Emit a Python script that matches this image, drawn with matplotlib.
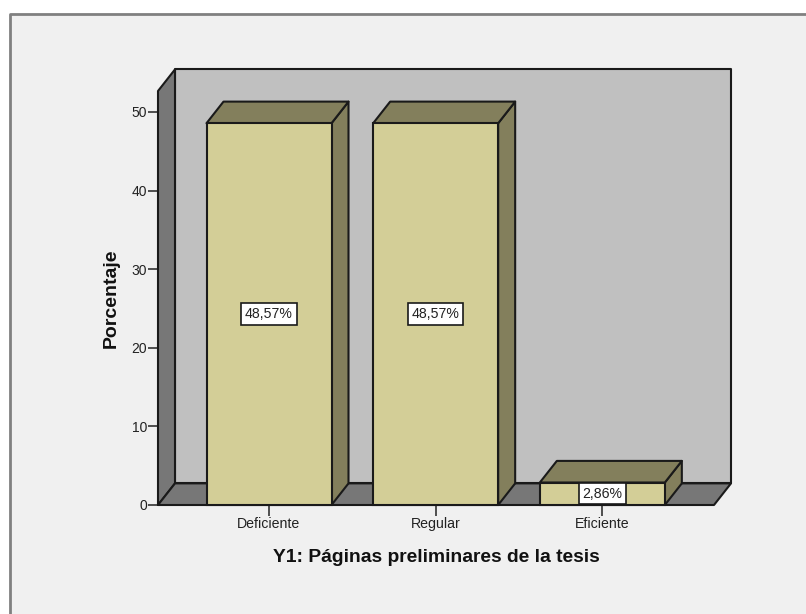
import matplotlib
matplotlib.use("Agg")
import matplotlib.pyplot as plt
from matplotlib.patches import Polygon, Rectangle

plt.rcParams['font.family'] = ['Liberation Sans', 'DejaVu Sans']

categories = ['Deficiente', 'Regular', 'Eficiente']
values = [48.57, 48.57, 2.86]
value_labels = ['48,57%', '48,57%', '2,86%']
y_ticks = [0, 10, 20, 30, 40, 50]

W, H = 806, 614
WALL = '#777777'
BACK = '#c0c0c0'
FRONT = '#d3ce97'
SHADE = '#837f5c'
EDGE = '#1a1a1a'

bar_w = 0.75
dx = 0.102
dy = 2.75
x0, x1 = -0.666, 2.67
ytop = 52.67
lw = 1.5


def poly(ax, pts, color, z):
    ax.add_patch(Polygon(pts, closed=True, facecolor=color, edgecolor=EDGE,
                         linewidth=lw, zorder=z, clip_on=False, joinstyle='round'))


fig = plt.figure(figsize=(W / 100, H / 100), dpi=100, facecolor='#f0f0f0')
fig.add_artist(Rectangle((0, 1 - 13.5 / H), 1, 13.5 / H, transform=fig.transFigure,
                         facecolor='white', edgecolor='none', zorder=-1))
fig.add_artist(Rectangle((0, 0), 9.5 / W, 1, transform=fig.transFigure,
                         facecolor='white', edgecolor='none', zorder=-1))
fig.add_artist(plt.Line2D([9.5 / W, 9.5 / W, 1], [0, 1 - 13.5 / H, 1 - 13.5 / H], transform=fig.transFigure,
                          color='#808080', linewidth=2, zorder=-1))

ax = fig.add_axes([158 / W, 1 - 505 / H, 556 / W, 414 / H])
ax.set_xlim(x0, x1)
ax.set_ylim(0, ytop)
ax.patch.set_visible(False)
for s in ax.spines.values():
    s.set_visible(False)

# caja 3d: pared del fondo, pared izquierda, piso
poly(ax, [(x0 + dx, dy), (x1 + dx, dy), (x1 + dx, ytop + dy), (x0 + dx, ytop + dy)], BACK, 1)
poly(ax, [(x0, 0), (x0 + dx, dy), (x0 + dx, ytop + dy), (x0, ytop)], WALL, 2)
poly(ax, [(x0, 0), (x1, 0), (x1 + dx, dy), (x0 + dx, dy)], WALL, 2)

for i, (v, lab) in enumerate(zip(values, value_labels)):
    l, r = i - bar_w / 2, i + bar_w / 2
    z = 3 + i
    poly(ax, [(r, 0), (r + dx, dy), (r + dx, v + dy), (r, v)], SHADE, z)
    poly(ax, [(l, v), (r, v), (r + dx, v + dy), (l + dx, v + dy)], SHADE, z)
    ax.add_patch(Rectangle((l, 0), bar_w, v, facecolor=FRONT, edgecolor=EDGE,
                           linewidth=lw, zorder=z, clip_on=False))
    ax.text(i, v / 2, lab, ha='center', va='center', fontsize=10.2, color='#222222', zorder=10,
            bbox=dict(boxstyle='square,pad=0.26', facecolor='white', edgecolor=EDGE, linewidth=1.2))

ax.set_xticks(range(len(categories)))
ax.set_xticklabels(categories, fontsize=10.2, color='#222222')
ax.set_yticks(y_ticks)
ax.tick_params(axis='y', labelsize=10, length=7, width=1.2, color='#333333', labelcolor='#222222', pad=1)
ax.tick_params(axis='x', length=8, width=1.2, color='#333333', pad=0.5)
ax.set_xlabel('Y1: Páginas preliminares de la tesis', fontsize=13.9, fontweight='bold', labelpad=13, color='#111111')
ax.set_ylabel('Porcentaje', fontsize=14, fontweight='bold', labelpad=8, color='#111111')

fig.savefig('out.png', dpi=100)
